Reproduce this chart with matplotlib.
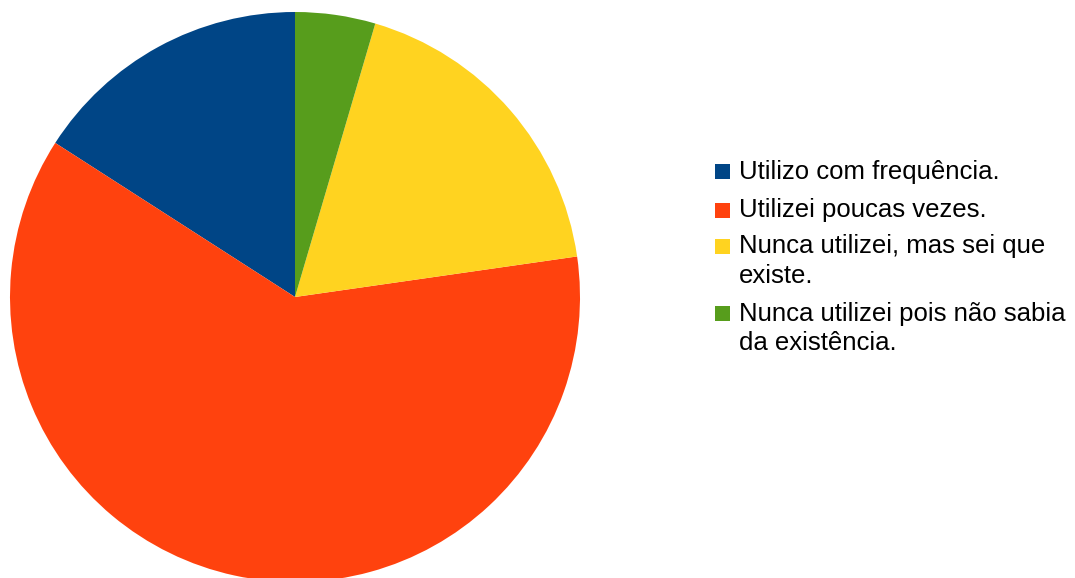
import matplotlib
matplotlib.use("Agg")
import matplotlib.pyplot as plt
from matplotlib.patches import Rectangle

categories = ["Utilizo com frequência.", "Utilizei poucas vezes.",
              "Nunca utilizei, mas sei que\nexiste.",
              "Nunca utilizei pois não sabia\nda existência."]
values = [7, 27, 8, 2]
colors = ["#004586", "#ff420e", "#ffd320", "#579d1c"]

W, H = 1075, 578
fig = plt.figure(figsize=(W / 100, H / 100), dpi=100)
cx, cy, r = 295, 297, 285
ax = fig.add_axes([(cx - r) / W, (H - cy - r) / H, 2 * r / W, 2 * r / H])
ax.pie(values, colors=colors, startangle=90, counterclock=True, radius=1,
       wedgeprops=dict(linewidth=0))
ax.set_xlim(-1, 1)
ax.set_ylim(-1, 1)
ax.set_aspect("equal")
ax.axis("off")

fam = ['Liberation Sans', 'DejaVu Sans']
baselines = [179, 217.5, 253.5, 321]
line_gap = 29.5
for lab, col, b in zip(categories, colors, baselines):
    fig.patches.append(Rectangle((714.5 / W, (H - b) / H), 15.5 / W, 15 / H,
                                 transform=fig.transFigure, facecolor=col,
                                 edgecolor="none"))
    for i, line in enumerate(lab.split("\n")):
        fig.text(739 / W, (H - b - i * line_gap) / H, line, fontsize=18.5,
                 va="baseline", ha="left", color="black", family=fam)

fig.savefig("out.png", dpi=100)
